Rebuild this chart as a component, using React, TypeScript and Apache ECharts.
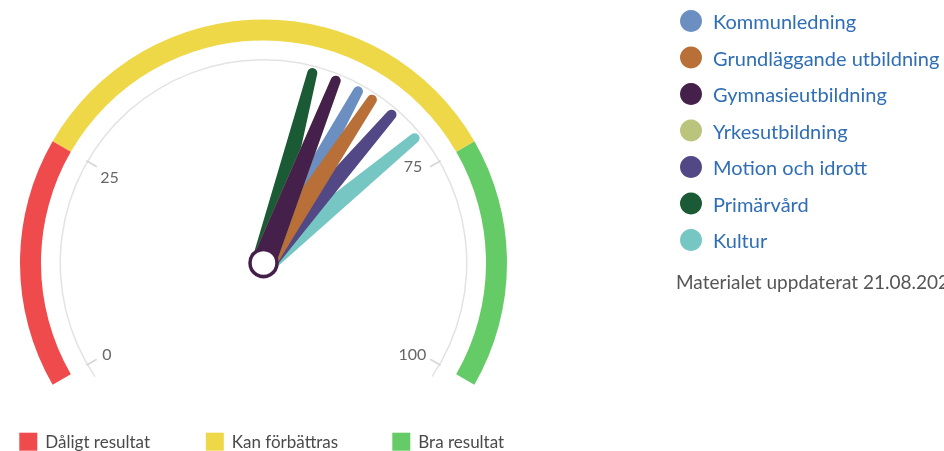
import React, { useEffect, useRef } from 'react';
import * as echarts from 'echarts';

const categories = ['Kommunledning', 'Grundläggande utbildning', 'Gymnasieutbildning', 'Yrkesutbildning', 'Motion och idrott', 'Primärvård', 'Kultur'];
const values = [62, 64, 59, 59, 67, 56, 71];
const colors = ['#6a8fc0', '#b96f38', '#45204b', '#bbc47c', '#534886', '#1a5a34', '#76c6c4'];
const drawOrder = ['Primärvård', 'Kultur', 'Motion och idrott', 'Kommunledning', 'Grundläggande utbildning', 'Yrkesutbildning', 'Gymnasieutbildning'];

const bandNames = ['Dåligt resultat', 'Kan förbättras', 'Bra resultat'];
const bandLimits = [25, 75, 100];
const bandColors = ['#ef4b4c', '#efd848', '#65cb67'];
const tickPairs = [[0, 25], [75, 100]];
const updatedText = 'Materialet uppdaterat 21.08.2023';

const CENTER = [263.5, 263];
const START = 210;
const END = -30;
const angleOf = (v: number) => START - (v / 100) * (START - END);
const FONT = 'Lato';

const off = {
  axisLine: { show: false, lineStyle: { width: 0 } },
  axisTick: { show: false },
  splitLine: { show: false, length: 0, distance: 0 },
  axisLabel: { show: false },
  pointer: { show: false },
  anchor: { show: false },
  title: { show: false },
  detail: { show: false },
};

export default function App() {
  const ref = useRef<HTMLDivElement>(null);
  useEffect(() => {
    if (!ref.current) return;
    const chart = echarts.init(ref.current, undefined, { renderer: 'svg' });
    const series: any[] = [];
    // colored band
    series.push({
      type: 'gauge', center: CENTER, radius: 243.5, startAngle: START, endAngle: END, min: 0, max: 100, z: 1,
      ...off,
      axisLine: { show: true, lineStyle: { width: 21, color: bandLimits.map((l, i) => [l / 100, bandColors[i]]) } },
      data: [],
    });
    // thin gray arc
    series.push({
      type: 'gauge', center: CENTER, radius: 204, startAngle: 214, endAngle: -34, min: 0, max: 100, z: 1,
      ...off,
      axisLine: { show: true, lineStyle: { width: 1.5, color: [[1, '#e3e3e3']] } },
      data: [],
    });
    // ticks
    tickPairs.forEach(([a, b]) => {
      series.push({
        type: 'gauge', center: CENTER, radius: 204.5, startAngle: angleOf(a), endAngle: angleOf(b), min: a, max: b, splitNumber: 1, z: 1,
        ...off,
        splitLine: { show: true, length: 12, distance: 0, lineStyle: { color: '#d6d6d6', width: 1.5 } },
        data: [],
      });
    });
    // labels
    const labelGeom = [
      { a: 0, b: 25, s: 209.3, e: 152, r: 185 },
      { a: 75, b: 100, s: 31.6, e: -29.2, r: 186.5 },
    ];
    labelGeom.forEach((g) => {
      series.push({
        type: 'gauge', center: CENTER, radius: g.r, startAngle: g.s, endAngle: g.e, min: g.a, max: g.b, splitNumber: 1, z: 1,
        ...off,
        axisLabel: { show: true, distance: 0, color: '#666', fontSize: 16, fontFamily: FONT },
        data: [],
      });
    });
    // needles
    drawOrder.forEach((name, k) => {
      const i = categories.indexOf(name);
      series.push({
        type: 'gauge', name, center: CENTER, radius: 243.5, startAngle: START, endAngle: END, min: 0, max: 100, z: 3 + k,
        ...off,
        pointer: {
          show: true,
          icon: 'path://M7,5 A5,5 0 0 1 17,5 L24,201 L0,201 Z',
          length: 201, width: 24, offsetCenter: [0, 0],
          itemStyle: { color: colors[i] },
        },
        itemStyle: { color: colors[i] },
        data: [{ value: values[i], name }],
      });
    });
    // pivot
    series.push({
      type: 'gauge', center: CENTER, radius: 243.5, startAngle: START, endAngle: END, min: 0, max: 100, z: 30,
      ...off,
      anchor: { show: true, showAbove: true, size: 27, itemStyle: { color: '#ffffff', borderColor: '#45204b', borderWidth: 3.5 } },
      data: [{ value: 0 }],
    });

    const graphic: any[] = [
      { type: 'text', left: 676, top: 272, style: { text: updatedText, fill: '#555', font: `19px ${FONT}` } },
    ];
    bandNames.forEach((n, i) => {
      const x = 19.3 + i * 186.5;
      graphic.push({ type: 'rect', shape: { x, y: 432.7, width: 18, height: 18 }, style: { fill: bandColors[i] } });
      graphic.push({ type: 'text', x: x + 26, y: 441.5, style: { text: n, fill: '#4a4a4a', font: `17px ${FONT}`, verticalAlign: 'middle' } });
    });

    chart.setOption({
      animation: false,
      legend: [{
        data: categories.map((n, i) => ({ name: n, itemStyle: { color: colors[i] } })),
        orient: 'vertical', left: 680, top: 10, padding: 0, itemWidth: 22, itemHeight: 22, itemGap: 14.5, icon: 'circle',
        textStyle: { color: '#2f6eb5', fontSize: 20, fontFamily: FONT, lineHeight: 22, padding: [0, 0, 0, 6] },
        selectedMode: false,
      }],
      series,
      graphic,
    });
    return () => chart.dispose();
  }, []);
  return <div ref={ref} style={{ position: 'fixed', left: 0, top: 0, width: 944, height: 451 }} />;
}
